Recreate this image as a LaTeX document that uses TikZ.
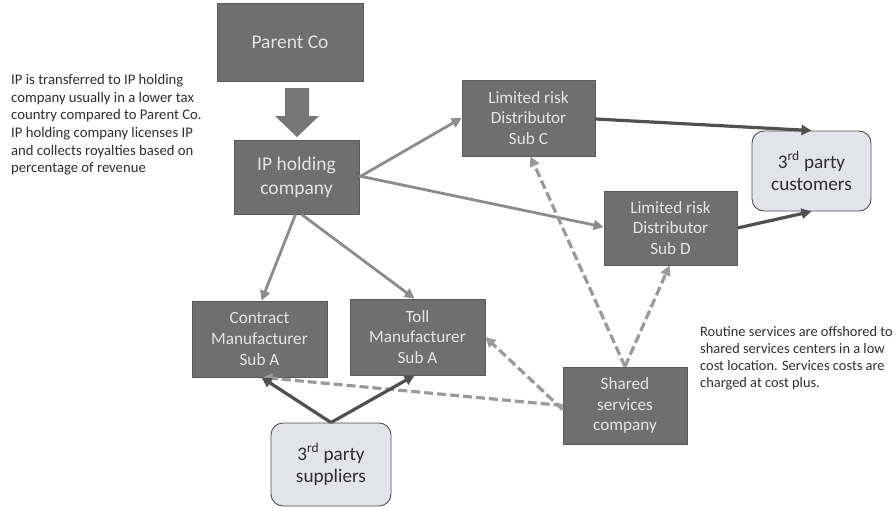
\documentclass[tikz,border=0pt]{standalone}
\usepackage{fontspec}
\setmainfont{Carlito}
\usetikzlibrary{arrows.meta}
\definecolor{boxfill}{HTML}{6F6F6F}
\definecolor{boxline}{HTML}{5A5A5A}
\definecolor{boxtext}{HTML}{E4E4E4}
\definecolor{lightfill}{HTML}{E3E3EA}
\definecolor{lightline}{HTML}{4F4F4F}
\definecolor{ipline}{HTML}{8C8C8C}
\definecolor{darkline}{HTML}{505050}
\definecolor{dashline}{HTML}{9A9A9A}
\definecolor{annot}{HTML}{2E2E2E}
\tikzset{
  darkbox/.style={draw=boxline, line width=0.8pt, fill=boxfill, text=boxtext, align=center, inner sep=0pt,
    font=\fontsize{17.2}{20.8}\selectfont},
  bigbox/.style={darkbox, font=\fontsize{19.5}{24.3}\selectfont},
  lightbox/.style={draw=lightline, line width=0.9pt, fill=lightfill, text=annot, rounded corners=12pt, align=center,
    inner sep=0pt, font=\fontsize{19.2}{22.7}\selectfont},
  iparrow/.style={draw=ipline, line width=2.8pt, -{Triangle[length=10pt,width=10pt]}},
  darkarrow/.style={draw=darkline, line width=3.2pt, -{Triangle[length=10pt,width=10pt]}},
  dasharrow/.style={draw=dashline, line width=3.2pt, dash pattern=on 9pt off 4pt, -{Triangle[length=10pt,width=10pt]}},
  annotation/.style={text=annot, align=left, inner sep=0pt, anchor=north west}
}
\begin{document}
\begin{tikzpicture}[x=1pt,y=-1pt]
\useasboundingbox (0,0) rectangle (896,507);
\fill[white] (0,0) rectangle (896,507);

% boxes
\node[bigbox, minimum width=146pt, minimum height=78pt] (parent) at (290,42) {Parent Co};
\node[bigbox, minimum width=125pt, minimum height=74pt] (ip) at (296.5,177) {IP holding\\company};
\node[darkbox, minimum width=133pt, minimum height=76pt] (subc) at (528.5,118) {Limited risk\\Distributor\\Sub C};
\node[darkbox, minimum width=133pt, minimum height=74pt] (subd) at (670.5,228) {Limited risk\\Distributor\\Sub D};
\node[lightbox, minimum width=119pt, minimum height=80pt] (cust) at (811.5,171) {3\textsuperscript{rd} party\\customers};
\node[darkbox, minimum width=135pt, minimum height=76pt] (contract) at (259.5,339) {Contract\\Manufacturer\\Sub A};
\node[darkbox, minimum width=135pt, minimum height=76pt] (toll) at (417.5,337) {Toll\\Manufacturer\\Sub A};
\node[darkbox, minimum width=124pt, minimum height=77pt] (shared) at (625,405.5) {Shared\\services\\company};
\node[lightbox, minimum width=120pt, minimum height=83pt] (supp) at (331,464.5) {3\textsuperscript{rd} party\\suppliers};

% block arrow parent -> ip
\coordinate (ba) at (297,88);
\fill[boxfill!95!white] (285,88) -- (309,88) -- (309,116) -- (319,116) -- (297,137) -- (275,116) -- (285,116) -- cycle;

% annotations
\node[annotation, font=\fontsize{14.7}{17.7}\selectfont] (leftnote) at (11,74)
  {IP is transferred to IP holding\\company usually in a lower tax\\country compared to Parent Co.\\IP holding company licenses IP\\and collects royalties based on\\percentage of revenue};
\node[annotation, font=\fontsize{14.4}{17}\selectfont] (rightnote) at (700,326)
  {Routine services are offshored to\\shared services centers in a low\\cost location. Services costs are\\charged at cost plus.};

% IP holding arrows
\draw[iparrow] (ip.east) -- (subc.west);
\draw[iparrow] ([yshift=1pt]ip.east) -- ([yshift=1pt]subd.west);
\draw[iparrow] ([xshift=-1pt]ip.south) -- ([xshift=2pt]contract.north);
\draw[iparrow] ([xshift=5pt]ip.south) -- ([xshift=-3pt]toll.north);

% distributors to customers
\draw[darkarrow] ([yshift=-1pt]subc.east) -- (cust.north);
\draw[darkarrow] (subd.east) -- (cust.south);

% shared services
\draw[dasharrow] (shared.north) -- ([xshift=2pt]subc.south);
\draw[dasharrow] (shared.north) -- ([xshift=-1pt]subd.south);
\draw[dasharrow] ([yshift=-4pt]shared.west) -- (toll.east);
\draw[dasharrow] (shared.west) -- ([xshift=3pt]contract.south);

% suppliers
\draw[darkarrow] (supp.north) -- ([xshift=2pt]contract.south);
\draw[darkarrow] (supp.north) -- ([xshift=-3pt]toll.south);
\end{tikzpicture}
\end{document}
